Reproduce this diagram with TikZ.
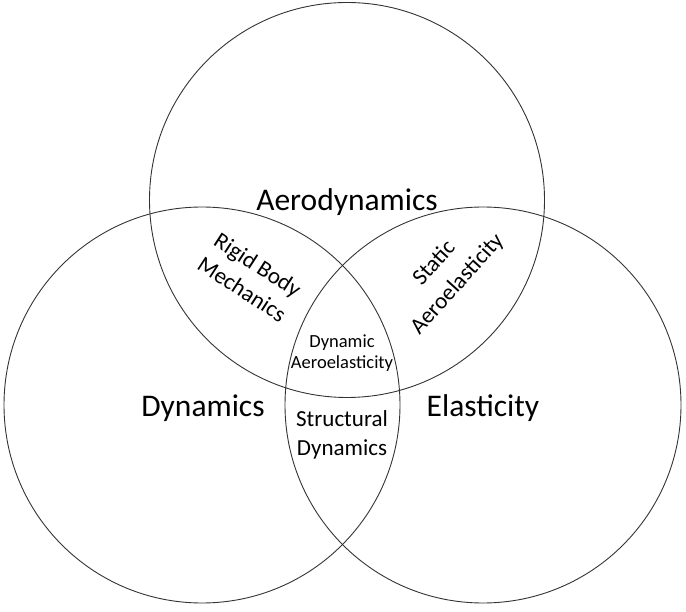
\documentclass[tikz,border=0pt]{standalone}
\usepackage{fontspec}
\setmainfont{Carlito}
\begin{document}
\begin{tikzpicture}[x=1pt,y=-1pt,
  venn/.style={draw=black!80,line width=0.9pt},
  big/.style={font=\fontsize{31.5}{34}\selectfont},
  mid/.style={font=\fontsize{23}{29}\selectfont,align=center},
  small/.style={font=\fontsize{18.5}{21}\selectfont,align=center}]
\useasboundingbox (0,0) rectangle (686,612);
\draw[venn] (347,200) circle (197.5);
\draw[venn] (202,405) circle (198);
\draw[venn] (483,405) circle (198);
\node[big] (aero) at (347,202) {Aerodynamics};
\node[big] (dyn) at (203,408) {Dynamics};
\node[big] (ela) at (483,408) {Elasticity};
\node[mid] (sd) at (342,435) {Structural\\Dynamics};
\node[small] (da) at (342,353) {Dynamic\\Aeroelasticity};
\node[mid,rotate=-33] (rbm) at (250,277) {Rigid Body\\Mechanics};
\node[mid,rotate=48,font=\fontsize{23}{31}\selectfont] (sa) at (446,274) {Static\\Aeroelasticity};
\end{tikzpicture}
\end{document}
